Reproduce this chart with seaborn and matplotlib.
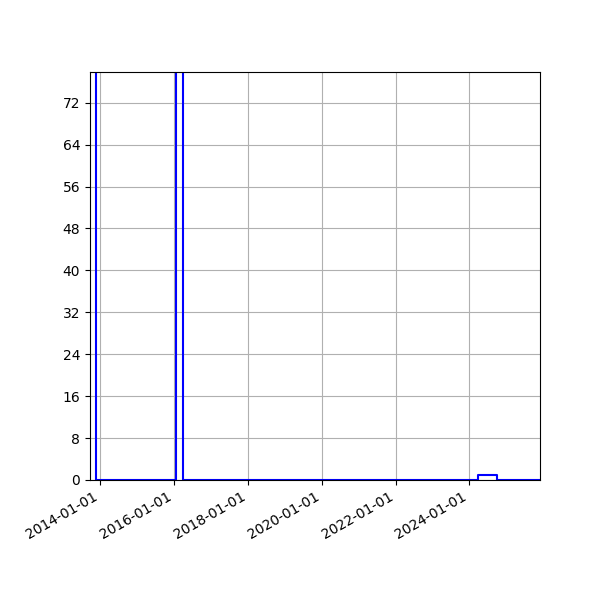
import pandas as pd
import matplotlib
matplotlib.use('Agg')
import matplotlib.pyplot as plt
import matplotlib.dates as mdates
import seaborn as sns

# bin edges and counts of the histogram (tall bins are clipped by the y limit)
bin_edges = ['2013-05-01', '2013-11-15', '2016-01-19', '2016-03-28',
             '2024-03-24', '2024-10-04', '2026-06-01']
bin_counts = [180, 0, 120, 0, 1, 0]
x_range = ['2013-09-21', '2025-12-01']
y_top = 77.85

edges = pd.to_datetime(bin_edges)
data = pd.DataFrame({'date': edges[:-1], 'count': bin_counts})

fig, ax = plt.subplots(figsize=(6, 6), dpi=100)
sns.histplot(data=data, x='date', weights='count',
             bins=list(mdates.date2num(edges)),
             element='step', fill=False, color='blue', linewidth=1.5, ax=ax)

ax.set_xlim(pd.to_datetime(x_range))
ax.set_ylim(0, y_top)
ax.set_yticks(range(0, 80, 8))
ax.xaxis.set_major_locator(mdates.YearLocator(2))
ax.xaxis.set_major_formatter(mdates.DateFormatter('%Y-%m-%d'))
ax.set_xlabel('')
ax.set_ylabel('')
ax.grid(True)
ax.set_axisbelow(True)

fig.autofmt_xdate()
fig.subplots_adjust(left=0.15, right=0.9, top=0.88, bottom=0.2)
fig.savefig('out.png')
